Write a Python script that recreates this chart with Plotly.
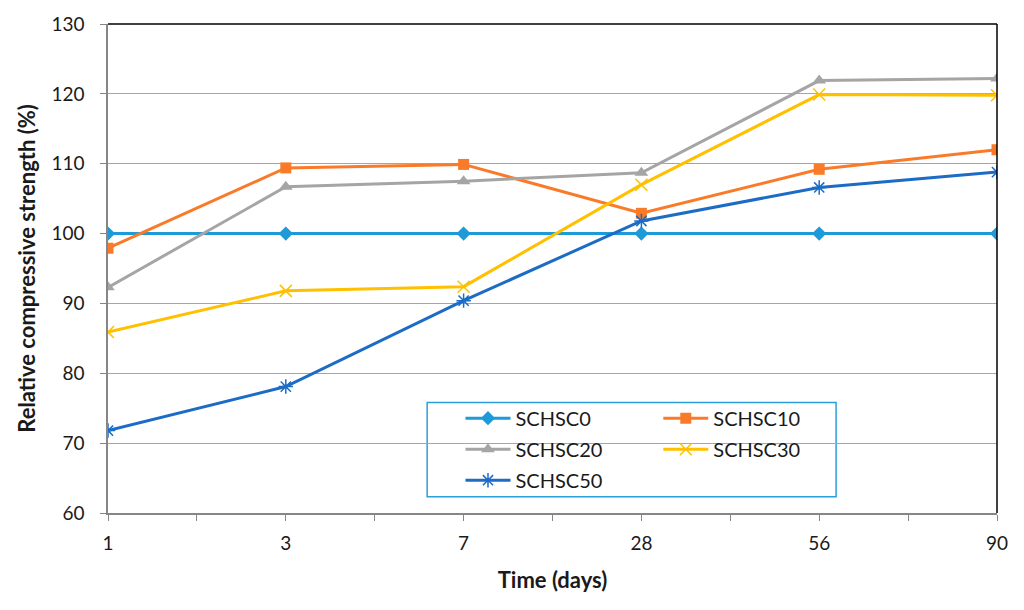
import plotly.graph_objects as go

days = ["1", "3", "7", "28", "56", "90"]
schsc0 = [100, 100, 100, 100, 100, 100]
schsc10 = [97.9, 109.4, 109.9, 102.9, 109.2, 112.0]
schsc20 = [92.3, 106.7, 107.5, 108.7, 121.9, 122.2]
schsc30 = [85.9, 91.8, 92.4, 107.0, 119.9, 119.8]
schsc50 = [71.8, 78.1, 90.4, 101.8, 106.6, 108.8]
y_ticks = [60, 70, 80, 90, 100, 110, 120, 130]

FONT = "Lato"
xpos = list(range(len(days)))

series = [
    ("SCHSC0", schsc0, "#1F9AD8", "diamond", 11, "legend"),
    ("SCHSC10", schsc10, "#F97B2A", "square", 11, "legend2"),
    ("SCHSC20", schsc20, "#A5A5A5", "triangle-up", 12, "legend"),
    ("SCHSC30", schsc30, "#FFC000", "x-thin", 12, "legend2"),
    ("SCHSC50", schsc50, "#1C6CC6", "asterisk", 12, "legend"),
]

fig = go.Figure()
for name, vals, color, sym, size, lg in series:
    thin = sym in ("x-thin", "asterisk")
    fig.add_trace(go.Scatter(
        x=xpos, y=vals, name=name, mode="lines+markers",
        line=dict(color=color, width=3),
        marker=dict(symbol=sym, size=size, color=color,
                    line=dict(color=color, width=1.5 if thin else 0)),
        legend=lg, legendgroup=name,
    ))

tickvals = [i * 0.5 for i in range(2 * len(days) - 1)]
ticktext = [days[int(v)] if v == int(v) else "" for v in tickvals]

fig.update_layout(
    width=1024, height=610,
    margin=dict(l=108, r=27, t=21, b=97),
    paper_bgcolor="white", plot_bgcolor="white",
    font=dict(family=FONT, size=19, color="#1a1a1a"),
    xaxis=dict(
        range=[0, len(days) - 1], tickmode="array", tickvals=tickvals, ticktext=ticktext,
        showgrid=False, zeroline=False, showline=True, linecolor="#868686", linewidth=1.5,
        ticks="outside", ticklen=6, tickcolor="#868686", ticklabelstandoff=6,
        title=dict(text="<b>Time (days)</b>", font=dict(family=FONT, size=22), standoff=20),
    ),
    yaxis=dict(
        range=[60, 130], tickvals=y_ticks,
        showgrid=True, gridcolor="#A6A6A6", gridwidth=1.2, zeroline=False,
        showline=True, linecolor="#868686", linewidth=1.5,
        ticks="outside", ticklen=6, tickcolor="#868686", ticklabelstandoff=12,
        title=dict(text="<b>Relative compressive strength (%)</b>", font=dict(family=FONT, size=22), standoff=10),
    ),
    legend=dict(x=0.3965, y=0.2337, xanchor="left", yanchor="top", orientation="v",
                bgcolor="rgba(0,0,0,0)", font=dict(family=FONT, size=20), tracegroupgap=2,
                itemwidth=45),
    legend2=dict(x=0.619, y=0.2337, xanchor="left", yanchor="top", orientation="v",
                 bgcolor="rgba(0,0,0,0)", font=dict(family=FONT, size=20), tracegroupgap=2,
                 itemwidth=45),
    showlegend=True,
    shapes=[
        dict(type="line", xref="paper", yref="paper", x0=0, x1=1, y0=1, y1=1,
             line=dict(color="black", width=1.5)),
        dict(type="line", xref="paper", yref="paper", x0=1, x1=1, y0=0, y1=1,
             line=dict(color="black", width=1.5)),
        dict(type="rect", xref="paper", yref="paper", x0=0.359, x1=0.819, y0=0.033, y1=0.226,
             line=dict(color="#2AA0DA", width=1.5), fillcolor="white", layer="below"),
    ],
)

fig.write_html("out.html", config={"displayModeBar": False},
               post_script="document.body.style.margin='0';")
